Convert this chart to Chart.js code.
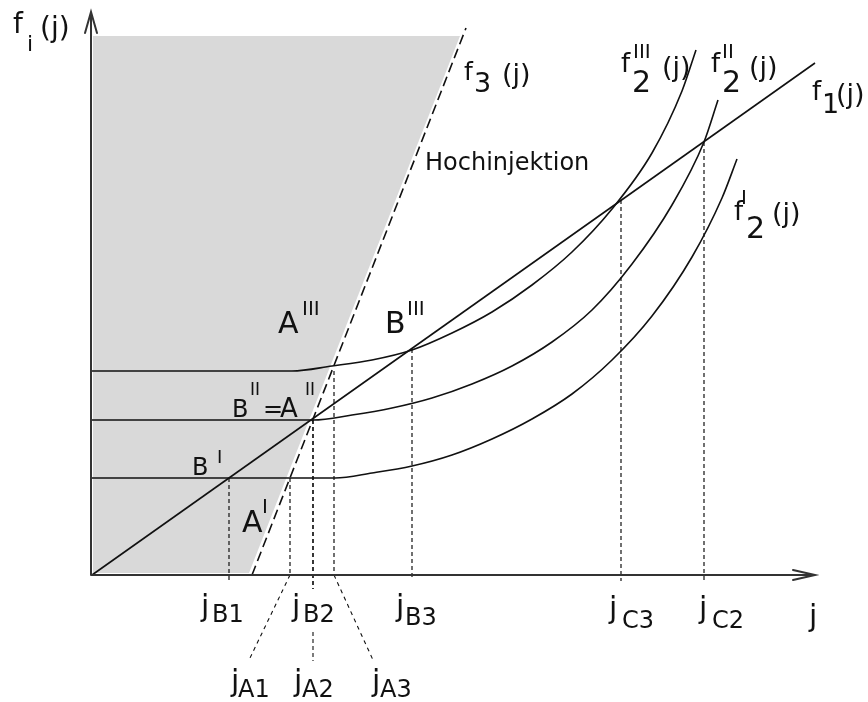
<!DOCTYPE html>
<html><head><meta charset="utf-8">
<script src="https://cdn.jsdelivr.net/npm/chart.js@4/dist/chart.umd.min.js"></script>
<style>html,body{margin:0;padding:0;background:#fff}#wrap{width:868px;height:702px}</style>
</head><body><div id="wrap"><canvas id="c" width="868" height="702"></canvas></div>
<script>
// Arbeitspunkte: Stromdichte j (x) gegen f_i(j) (y), beliebige Einheiten
const f1J = [0, 723];
const f1F = [0, 512];
const f3J = [160, 374];
const f3F = [0, 547];
// Bereich der Hochinjektion (grau), begrenzt durch f3 und die Oberkante
const grayJ = [1, 157, 368];
const grayF = [2, 2, 539];
const grayTop = 539;
// Kennlinien f2 fuer drei Pegel
const f2IJ   = [0, 200, 243, 280, 320, 360, 400, 440, 480, 520, 560, 600, 630, 645];
const f2IF   = [97, 97, 97, 102, 109, 120, 136, 156, 181, 215, 259, 318, 377, 416];
const f2IIJ  = [0, 180, 221, 260, 300, 340, 380, 420, 460, 500, 540, 580, 612, 626];
const f2IIF  = [155, 155, 155, 160, 167, 177, 191, 209, 233, 265, 311, 370, 433, 475];
const f2IIIJ = [0, 170, 200, 240, 280, 320, 360, 400, 440, 480, 520, 560, 590, 604];
const f2IIIF = [204, 204, 204, 209, 215, 225, 242, 263, 290, 323, 366, 422, 484, 525];
// Schnittpunkte und ihre Lote auf die j-Achse
const markNames = ['B1', 'A1', 'B2', 'A2', 'A3', 'B3', 'C3', 'C2'];
const markJ = [137, 198, 221, 221, 242, 320, 529, 612];
const markF = [97, 97, 155, 155, 204, 226, 375, 433];
const axisJMax = 723;
const axisFMax = 563;

const pts = (xs, ys) => xs.map((x, i) => ({x, y: ys[i]}));
const INK = '#111';
const FONT = '"DejaVu Sans", sans-serif';

const curve = (data, extra) => Object.assign({
  data, showLine: true, pointRadius: 0, borderColor: INK, borderWidth: 1.6,
  fill: false, tension: 0, order: 0
}, extra || {});

// untere Enden der Lote (unterhalb der Achse), je Punkt
const dropEnd = {B1: -5, A1: 0, B2: -14, A2: -14, A3: 0, B3: -5, C3: -6, C2: -6};

const datasets = [
  curve(pts(grayJ, grayF), {borderWidth: 0, fill: {value: grayTop}, backgroundColor: '#d9d9d9', order: 5}),
  curve(pts(f1J, f1F)),
  curve(pts(f3J, f3F), {borderDash: [10, 5]}),
  curve(pts(f2IJ, f2IF), {cubicInterpolationMode: 'monotone'}),
  curve(pts(f2IIJ, f2IIF), {cubicInterpolationMode: 'monotone'}),
  curve(pts(f2IIIJ, f2IIIF), {cubicInterpolationMode: 'monotone'})
];
markNames.forEach((n, i) => {
  datasets.push(curve([{x: markJ[i], y: markF[i]}, {x: markJ[i], y: dropEnd[n]}],
    {borderWidth: 1.2, borderDash: [4, 3]}));
});
// Hinweislinien zu den Beschriftungen j_A1, j_A2, j_A3
const jA = i => markJ[markNames.indexOf('A' + i)];
datasets.push(curve([{x: jA(1), y: 0}, {x: jA(1) - 40, y: -83}], {borderWidth: 1.1, borderDash: [4, 4]}));
datasets.push(curve([{x: jA(2), y: -57}, {x: jA(2), y: -86}], {borderWidth: 1.1, borderDash: [4, 3]}));
datasets.push(curve([{x: jA(3), y: 0}, {x: jA(3) + 39, y: -85}], {borderWidth: 1.1, borderDash: [4, 4]}));

// Beschriftungen: [Text, Schriftgroesse, j, f] (linke Grundlinie)
const labels = [
  ['f', 28, -79, 542], ['i', 22, -65, 524], ['(j)', 28, -52, 538],
  ['f', 25, 372, 495], ['3', 27, 382, 483], ['(j)', 27, 410, 492],
  ['f', 26, 529, 503], ['III', 20, 541, 517], ['2', 30, 540, 483], ['(j)', 27, 570, 499],
  ['f', 26, 619, 503], ['II', 20, 630, 517], ['2', 30, 630, 483], ['(j)', 27, 657, 499],
  ['f', 26, 720, 475], ['1', 27, 730, 462], ['(j)', 27, 744, 472],
  ['f', 26, 642, 355], ['I', 20, 649, 371], ['2', 30, 654, 337], ['(j)', 27, 680, 353],
  ['Hochinjektion', 24, 333, 405],
  ['A', 30, 186, 242], ['III', 20, 210, 260],
  ['B', 30, 293, 242], ['III', 20, 315, 260],
  ['B', 24, 140, 158], ['II', 17, 158, 180], ['=', 24, 171, 158], ['A', 26, 188, 158], ['II', 17, 213, 180],
  ['B', 24, 100, 100], ['I', 18, 125, 112],
  ['A', 30, 150, 43], ['I', 20, 170, 62],
  ['j', 30, 109, -41], ['B1', 24, 120, -47],
  ['j', 30, 200, -41], ['B2', 24, 211, -47],
  ['j', 30, 304, -41], ['B3', 24, 313, -50],
  ['j', 30, 139, -116], ['A1', 24, 146, -122],
  ['j', 30, 202, -116], ['A2', 24, 210, -122],
  ['j', 30, 280, -116], ['A3', 24, 288, -122],
  ['j', 30, 517, -43], ['C3', 24, 530, -53],
  ['j', 30, 607, -43], ['C2', 24, 620, -53],
  ['j', 30, 717, -51]
];

const overlay = {
  id: 'overlay',
  afterDatasetsDraw(chart) {
    const {ctx, scales: {x, y}} = chart;
    const px = v => x.getPixelForValue(v), py = v => y.getPixelForValue(v);
    ctx.save();
    ctx.strokeStyle = '#333';
    ctx.lineWidth = 2;
    ctx.lineCap = 'round';
    // j-Achse mit Pfeil
    const x0 = px(0), y0 = py(0), xe = px(axisJMax), ye = py(axisFMax);
    ctx.beginPath();
    ctx.moveTo(x0, y0); ctx.lineTo(xe, y0);
    ctx.moveTo(xe - 22, y0 - 5); ctx.lineTo(xe, y0); ctx.lineTo(xe - 22, y0 + 5);
    // f-Achse mit Pfeil
    ctx.moveTo(x0 - 1, y0); ctx.lineTo(x0 - 1, ye);
    ctx.moveTo(x0 - 7, ye + 21); ctx.lineTo(x0 - 1, ye); ctx.lineTo(x0 + 5, ye + 21);
    ctx.stroke();
    // Texte
    ctx.fillStyle = INK;
    ctx.textBaseline = 'alphabetic';
    ctx.textAlign = 'left';
    labels.forEach(([t, s, j, f]) => {
      ctx.font = s + 'px ' + FONT;
      ctx.fillText(t, px(j), py(f));
    });
    ctx.restore();
  }
};

new Chart(document.getElementById('c'), {
  type: 'line',
  data: {datasets},
  options: {
    responsive: false,
    animation: false,
    layout: {padding: 0},
    plugins: {legend: {display: false}, tooltip: {enabled: false}},
    elements: {point: {radius: 0}},
    scales: {
      x: {type: 'linear', min: -92, max: 776, display: false},
      y: {type: 'linear', min: -127, max: 575, display: false}
    }
  },
  plugins: [overlay]
});
</script>
</body></html>
